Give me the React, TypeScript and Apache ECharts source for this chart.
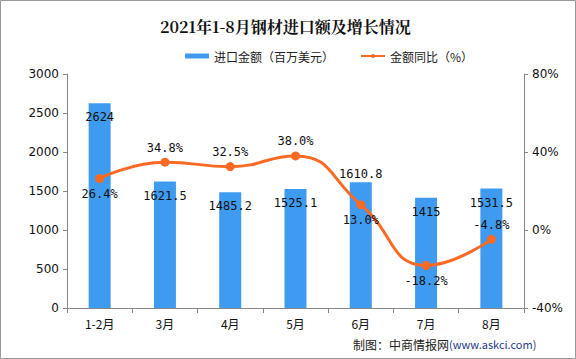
import React, { useEffect, useRef } from "react";
import * as echarts from "echarts";

const categories = ["1-2月", "3月", "4月", "5月", "6月", "7月", "8月"];
const importValues = [2624, 1621.5, 1485.2, 1525.1, 1610.8, 1415, 1531.5];
const growthValues = [26.4, 34.8, 32.5, 38.0, 13.0, -18.2, -4.8];
const leftTicks = [0, 500, 1000, 1500, 2000, 2500, 3000];
const rightTicks = [-40, 0, 40, 80];
const barLabelPos = ["insideTop", "insideTop", "insideTop", "insideTop", "top", "insideTop", "insideTop"];
const lineLabelPos = ["bottom", "top", "top", "top", "bottom", "bottom", "top"];

export default function App() {
  const ref = useRef<HTMLDivElement>(null);
  useEffect(() => {
    const chart = echarts.init(ref.current!, null, { renderer: "svg" });
    const font = "'Noto Sans CJK SC', sans-serif";
    const numFont = "'DejaVu Sans Mono', monospace";
    chart.setOption({
      animation: false,
      backgroundColor: "#ffffff",
      title: {
        text: "2021年1-8月钢材进口额及增长情况",
        left: 155,
        top: 13,
        textStyle: { fontSize: 16, fontWeight: "bold", color: "#111", fontFamily: "'Noto Serif CJK SC', 'Noto Sans CJK SC', serif" },
      },
      legend: {
        top: 45,
        left: 180,
        itemGap: 26,
        itemWidth: 24,
        itemHeight: 5,
        textStyle: { fontSize: 12, color: "#222", fontFamily: font },
        data: [
          { name: "进口金额（百万美元）", icon: "rect" },
          { name: "金额同比（%）" },
        ],
      },
      graphic: [
        {
          type: "rect",
          shape: { x: 0.5, y: 0.5, width: 575, height: 358 },
          style: { fill: "none", stroke: "#999", lineWidth: 1 },
          silent: true,
        },
        {
          type: "text",
          left: 353,
          top: 338,
          style: {
            rich: {
              a: { fontSize: 12, fill: "#222", fontFamily: font },
              b: { fontSize: 11, fill: "#1f3a8a", fontFamily: font },
            },
            text: "{a|制图：中商情报网}{b|(www.askci.com)}",
          },
        },
      ],
      grid: { left: 67, right: 52, top: 74, bottom: 51 },
      xAxis: {
        type: "category",
        data: categories,
        axisLine: { lineStyle: { color: "#888" } },
        axisTick: { show: true, lineStyle: { color: "#888" }, length: 5 },
        axisLabel: { color: "#111", fontSize: 12, fontFamily: font, margin: 9 },
      },
      yAxis: [
        {
          type: "value",
          min: leftTicks[0],
          max: leftTicks[leftTicks.length - 1],
          interval: leftTicks[1] - leftTicks[0],
          axisLine: { show: true, lineStyle: { color: "#888" } },
          axisTick: { show: true, lineStyle: { color: "#888" }, length: 4 },
          splitLine: { show: false },
          axisLabel: { color: "#111", fontSize: 12, fontFamily: "'DejaVu Sans', sans-serif", margin: 8, formatter: (v: number) => String(v) },
        },
        {
          type: "value",
          min: rightTicks[0],
          max: rightTicks[rightTicks.length - 1],
          interval: rightTicks[1] - rightTicks[0],
          position: "right",
          axisLine: { show: true, lineStyle: { color: "#888" } },
          axisTick: { show: true, lineStyle: { color: "#888" }, length: 4 },
          splitLine: { show: false },
          axisLabel: { color: "#111", fontSize: 12, fontFamily: "'DejaVu Sans', sans-serif", formatter: (v: number) => v + "%", margin: 8 },
        },
      ],
      series: [
        {
          name: "进口金额（百万美元）",
          type: "bar",
          barWidth: 22,
          itemStyle: { color: "#3f9bef" },
          data: importValues.map((v, i) => ({
            value: v,
            label: { position: barLabelPos[i], distance: barLabelPos[i] === "top" ? 2 : 8 },
          })),
          label: {
            show: true,
            color: "#111",
            fontSize: 12,
            fontFamily: numFont,
          },
        },
        {
          name: "金额同比（%）",
          type: "line",
          yAxisIndex: 1,
          smooth: true,
          symbol: "circle",
          symbolSize: 9,
          lineStyle: { color: "#fb6a24", width: 3 },
          itemStyle: { color: "#fb6a24" },
          data: growthValues.map((v, i) => ({
            value: v,
            label: { position: lineLabelPos[i], distance: lineLabelPos[i] === "top" ? 4 : 5 },
          })),
          label: {
            show: true,
            color: "#111",
            fontSize: 12,
            fontFamily: numFont,
            formatter: (p: any) => p.value.toFixed(1) + "%",
          },
        },
      ],
    });
    return () => chart.dispose();
  }, []);
  return <div ref={ref} style={{ position: "fixed", left: 0, top: 0, width: 576, height: 359 }} />;
}
